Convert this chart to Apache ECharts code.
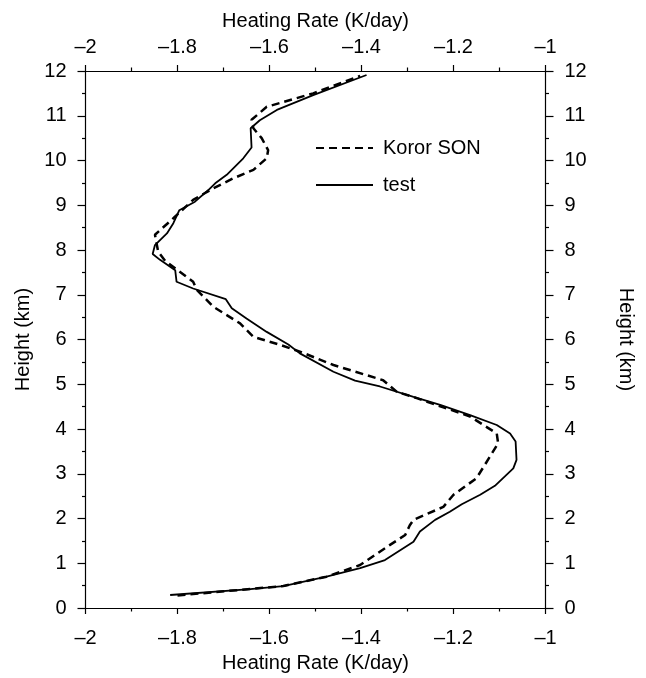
<!DOCTYPE html>
<html><head><meta charset="utf-8">
<script src="https://cdn.jsdelivr.net/npm/echarts@6/dist/echarts.min.js"></script>
<style>html,body{margin:0;padding:0;background:#fff}#c{width:646px;height:678px}</style>
</head><body><div id="c"></div>
<script>
const seriesNames = ['Koror SON', 'test'];
const kororRate = [-1.80,-1.57,-1.476,-1.403,-1.338,-1.305,-1.295,-1.287,-1.222,-1.200,-1.150,-1.121,-1.103,-1.106,-1.164,-1.280,-1.323,-1.353,-1.461,-1.534,-1.577,-1.635,-1.664,-1.722,-1.758,-1.766,-1.827,-1.842,-1.849,-1.809,-1.766,-1.722,-1.679,-1.635,-1.606,-1.603,-1.617,-1.635,-1.639,-1.606,-1.505,-1.403];
const kororHeight = [0.28,0.49,0.70,0.96,1.41,1.63,1.85,1.97,2.26,2.53,2.90,3.38,3.68,3.90,4.28,4.69,4.83,5.09,5.43,5.73,5.88,6.06,6.36,6.73,7.11,7.29,7.76,7.96,8.34,8.71,9.12,9.38,9.60,9.79,10.05,10.23,10.50,10.72,10.91,11.20,11.50,11.89];
const testRate = [-1.816,-1.642,-1.570,-1.476,-1.403,-1.349,-1.287,-1.273,-1.240,-1.208,-1.182,-1.142,-1.110,-1.070,-1.063,-1.065,-1.077,-1.106,-1.164,-1.229,-1.287,-1.360,-1.414,-1.461,-1.534,-1.559,-1.606,-1.650,-1.682,-1.695,-1.766,-1.802,-1.805,-1.838,-1.854,-1.849,-1.823,-1.809,-1.796,-1.762,-1.733,-1.718,-1.693,-1.657,-1.639,-1.641,-1.621,-1.584,-1.505,-1.389];
const testHeight = [0.29,0.42,0.49,0.70,0.89,1.07,1.48,1.71,1.97,2.15,2.32,2.53,2.73,3.12,3.31,3.72,3.90,4.09,4.31,4.54,4.72,4.95,5.08,5.28,5.69,5.89,6.17,6.47,6.70,6.90,7.14,7.29,7.55,7.78,7.91,8.11,8.37,8.60,8.89,9.08,9.34,9.49,9.68,10.05,10.29,10.72,10.90,11.13,11.46,11.91];
const xTitle = 'Heating Rate (K/day)';
const yTitle = 'Height (km)';

const FONT = 'Liberation Sans, Arial, Helvetica, sans-serif';
const FS = 20;
const fmtX = v => String(Math.round(v*10)/10).replace('-', '\u2013');
const txt = {fontSize: FS, color: '#000', fontFamily: FONT};
const axisCommonX = {
  type: 'value', min: -2, max: -1, interval: 0.2,
  nameLocation: 'middle',
  nameTextStyle: txt,
  axisLine: {show: true, onZero: false, lineStyle: {color: '#000', width: 1.2}},
  axisTick: {show: true, inside: false, length: 6, lineStyle: {color: '#000', width: 1.2}},
  minorTick: {show: true, splitNumber: 2, length: 3.5, lineStyle: {color: '#000', width: 1.2}},
  splitLine: {show: false}
};
const axisCommonY = {
  type: 'value', min: 0, max: 12, interval: 1,
  nameLocation: 'middle',
  nameTextStyle: txt,
  axisLine: {show: true, onZero: false, lineStyle: {color: '#000', width: 1.2}},
  axisTick: {show: true, inside: false, length: 8, lineStyle: {color: '#000', width: 1.2}},
  minorTick: {show: true, splitNumber: 2, length: 3.5, lineStyle: {color: '#000', width: 1.2}},
  axisLabel: Object.assign({margin: 19}, txt),
  splitLine: {show: false}
};
const zip = (xs, ys) => xs.map((x, i) => [x, ys[i]]);
const chart = echarts.init(document.getElementById('c'), null, {renderer: 'canvas'});
chart.setOption({
  animation: false,
  backgroundColor: '#fff',
  grid: {left: 85.5, right: 100.5, top: 71, bottom: 70, containLabel: false},
  xAxis: [
    Object.assign({}, axisCommonX, {position: 'bottom', name: xTitle, nameGap: 45,
      axisLabel: Object.assign({margin: 20, formatter: fmtX}, txt)}),
    Object.assign({}, axisCommonX, {position: 'top', name: xTitle, nameGap: 40,
      axisLabel: Object.assign({margin: 14, formatter: fmtX}, txt)})
  ],
  yAxis: [
    Object.assign({}, axisCommonY, {position: 'left', name: yTitle, nameRotate: 90, nameGap: 48}),
    Object.assign({}, axisCommonY, {position: 'right', name: yTitle, nameRotate: -90, nameGap: 70})
  ],
  legend: {
    orient: 'vertical', left: 315, top: 138, padding: 0,
    itemWidth: 57, itemHeight: 14, itemGap: 17,
    itemStyle: {opacity: 0},
    textStyle: Object.assign({lineHeight: 20, padding: [0, 0, 0, 5]}, txt),
    data: seriesNames
  },
  series: [
    {name: seriesNames[0], type: 'line', data: zip(kororRate, kororHeight), symbol: 'none', smooth: false,
     lineStyle: {color: '#000', width: 2.5, type: [8, 5]}, itemStyle: {color: '#000'}},
    {name: seriesNames[1], type: 'line', data: zip(testRate, testHeight), symbol: 'none', smooth: false,
     lineStyle: {color: '#000', width: 1.8, type: 'solid'}, itemStyle: {color: '#000'}}
  ]
});
</script></body></html>
